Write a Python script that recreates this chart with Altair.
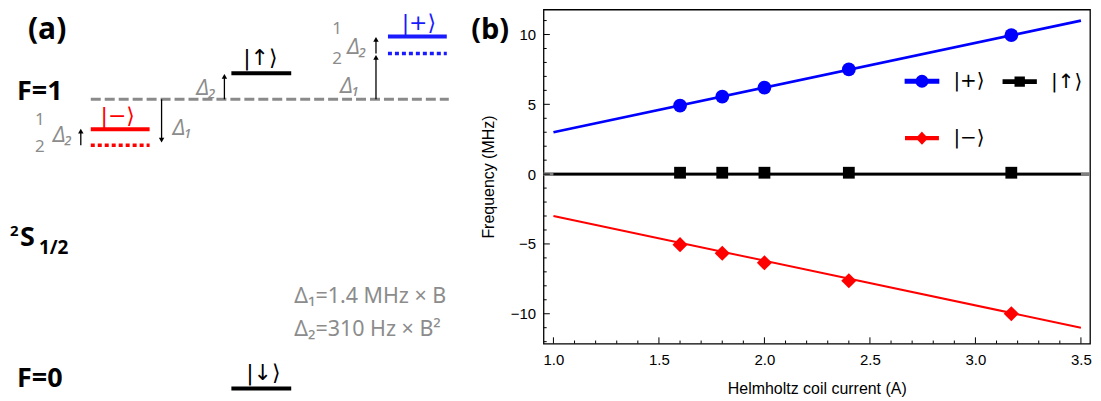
import altair as alt
import pandas as pd

# ---------------- panel (b) data ----------------
current = [1.6, 1.8, 2.0, 2.4, 3.17]
freq_plus = [4.9, 5.55, 6.2, 7.5, 9.95]
freq_up = [0.1, 0.1, 0.1, 0.1, 0.1]
freq_minus = [-5.05, -5.67, -6.35, -7.64, -10.0]
fit_x = [1.0, 3.5]
fit_plus = [3.0, 11.0]
fit_up = [0.0, 0.0]
fit_minus = [-3.0, -11.0]
series_names = ["|+⟩", "|↑⟩", "|−⟩"]
series_colors = ["#0000ff", "#000000", "#ff0000"]
x_major = [1.0, 1.5, 2.0, 2.5, 3.0, 3.5]
y_major = [-10, -5, 0, 5, 10]
x_minor = [round(1.0 + 0.1 * i, 1) for i in range(26)]
y_minor = list(range(-12, 12))

# ---------------- panel (a) data (schematic level diagram) ----------------
level_x0 = [91, 232, 389, 232]
level_x1 = [150, 292, 448, 292]
level_y = [128, 72, 35, 388]
level_color = ["#ff0000", "#000000", "#1a1aff", "#000000"]
dotted_x0 = [91, 389]
dotted_x1 = [150, 448]
dotted_y = [144, 52]
dotted_color = ["#ff0000", "#1a1aff"]
f1_x0 = [91]
f1_x1 = [450]
f1_y = [98]
arrow_x = [81, 162, 225, 377, 377]
arrow_from = [144, 98, 98, 98, 52]
arrow_to = [127, 142, 72, 53, 35]

bold_text = ["(a)", "F=1", "F=0", "2", "S", "1/2"]
bold_x = [28, 17, 17, 10, 20, 39]
bold_y = [29, 91, 379, 230, 237, 247]
bold_size = [30, 27, 27, 15, 27, 19]

ket_text = ["|−⟩", "|↑⟩", "|+⟩", "|↓⟩"]
ket_x = [118, 261, 420, 264]
ket_y = [115, 57, 22, 372]
ket_color = ["#ff0000", "#000000", "#1a1aff", "#000000"]

delta_text = ["Δ₁", "Δ₁", "Δ₂", "Δ₂", "Δ₂"]
delta_x = [183, 351, 207, 63, 358]
delta_y = [128, 86, 88, 135, 47]

frac_text = ["1", "2", "1", "2"]
frac_x = [40, 40, 338, 338]
frac_y = [119, 146, 28, 58]

formula_text = ["Δ₁=1.4 MHz × B", "Δ₂=310 Hz × B²"]
formula_x = [295, 295]
formula_y = [296, 329]

GRAY = "#8c8c8c"

# ================= panel (a) =================
AX = alt.Scale(domain=[8, 545], nice=False, zero=False)
AY = alt.Scale(domain=[8, 393], nice=False, zero=False, reverse=True)

levels = pd.DataFrame({"x0": level_x0, "x1": level_x1, "y": level_y, "c": level_color})
dotted = pd.DataFrame({"x0": dotted_x0, "x1": dotted_x1, "y": dotted_y, "c": dotted_color})
f1 = pd.DataFrame({"x0": f1_x0, "x1": f1_x1, "y": f1_y})
arrows = pd.DataFrame({"x": arrow_x, "y0": arrow_from, "y1": arrow_to})
arrows["dir"] = [1 if b < a else -1 for a, b in zip(arrows["y0"], arrows["y1"])]
arrows["hy"] = arrows["y1"] + 3 * arrows["dir"]
arrows["shape"] = ["triangle-up" if d == 1 else "triangle-down" for d in arrows["dir"]]

def xq(f):
    return alt.X(f, type="quantitative", scale=AX, axis=None)

def yq(f):
    return alt.Y(f, type="quantitative", scale=AY, axis=None)

lvl = alt.Chart(levels).mark_rule(strokeWidth=4).encode(
    x=xq("x0"), x2="x1", y=yq("y"), color=alt.Color("c:N", scale=None))
dot = alt.Chart(dotted).mark_rule(strokeWidth=3.5, strokeDash=[4, 3]).encode(
    x=xq("x0"), x2="x1", y=yq("y"), color=alt.Color("c:N", scale=None))
dash = alt.Chart(f1).mark_rule(strokeWidth=3, strokeDash=[10, 4], color="#8a8a8a").encode(
    x=xq("x0"), x2="x1", y=yq("y"))
shaft = alt.Chart(arrows).mark_rule(strokeWidth=1.3, color="black").encode(
    x=xq("x"), y=yq("y0"), y2="hy")
head = alt.Chart(arrows).mark_point(filled=True, size=30, color="black", opacity=1).encode(
    x=xq("x"), y=yq("hy"), shape=alt.Shape("shape:N", scale=None))

bold_df = pd.DataFrame({"t": bold_text, "x": bold_x, "y": bold_y, "s": bold_size})
t_bold = alt.Chart(bold_df).mark_text(align="left", baseline="middle", font="Open Sans",
                                      fontWeight="bold", color="black").encode(
    x=xq("x"), y=yq("y"), text="t:N", size=alt.Size("s:Q", scale=None))
ket_df = pd.DataFrame({"t": ket_text, "x": ket_x, "y": ket_y, "c": ket_color})
t_ket = alt.Chart(ket_df).mark_text(align="center", baseline="middle", font="DejaVu Sans",
                                    fontSize=22).encode(
    x=xq("x"), y=yq("y"), text="t:N", color=alt.Color("c:N", scale=None))
delta_df = pd.DataFrame({"t": delta_text, "x": delta_x, "y": delta_y})
t_delta = alt.Chart(delta_df).mark_text(align="center", baseline="middle", font="Noto Sans",
                                        fontStyle="italic", fontSize=21, color=GRAY).encode(
    x=xq("x"), y=yq("y"), text="t:N")
frac_df = pd.DataFrame({"t": frac_text, "x": frac_x, "y": frac_y})
t_frac = alt.Chart(frac_df).mark_text(align="center", baseline="middle", font="Noto Sans",
                                      fontSize=17, color=GRAY).encode(
    x=xq("x"), y=yq("y"), text="t:N")
form_df = pd.DataFrame({"t": formula_text, "x": formula_x, "y": formula_y})
t_form = alt.Chart(form_df).mark_text(align="left", baseline="middle", font="Noto Sans",
                                      fontSize=21.5, color=GRAY).encode(
    x=xq("x"), y=yq("y"), text="t:N")

panel_a = alt.layer(dash, lvl, dot, shaft, head, t_bold, t_ket, t_delta, t_frac, t_form).properties(
    width=537, height=385)

# ================= panel (b) =================
X_DOM = [0.953, 3.543]
Y_DOM = [-12.14, 11.79]
XS = alt.Scale(domain=X_DOM, nice=False, zero=False)
YS = alt.Scale(domain=Y_DOM, nice=False, zero=False)
col_scale = alt.Scale(domain=series_names, range=series_colors)

x_axis = alt.Axis(values=x_major, format=".1f", ticks=False, tickSize=0, domain=False, grid=False,
                  labelFont="Liberation Sans", labelFontSize=15, labelPadding=9, labelColor="black",
                  title="Helmholtz coil current (A)", titleFont="Liberation Sans", titleFontSize=16,
                  titleFontWeight="normal", titleColor="black", titlePadding=13)
y_axis = alt.Axis(values=y_major, format="d", ticks=False, tickSize=0, domain=False, grid=False,
                  labelFont="Liberation Sans", labelFontSize=15, labelPadding=8, labelColor="black",
                  title="Frequency (MHz)", titleFont="Liberation Sans", titleFontSize=16,
                  titleFontWeight="normal", titleColor="black", titlePadding=14)

leg_paths = [
    "M-1,-0.07H1V0.07H-1Z M-0.32,0A0.32,0.32,0,1,1,0.32,0A0.32,0.32,0,1,1,-0.32,0Z",
    "M-1,-0.07H1V0.07H-1Z M-0.25,-0.25H0.25V0.25H-0.25Z",
    "M-1,-0.07H1V0.07H-1Z M0,-0.32L0.3,0L0,0.32L-0.3,0Z",
]
# legend is placed at the top level of the concatenation (x counted from panel (a)'s left edge)
legend = alt.Legend(orient="none", legendX=899, legendY=54, columns=2, direction="horizontal",
                    title=None, symbolSize=1024, symbolStrokeWidth=0, symbolOpacity=1,
                    symbolType=leg_paths[0],
                    labelFont="DejaVu Sans", labelFontSize=20, labelColor="black",
                    labelOffset=14, rowPadding=29, columnPadding=13, padding=0)
shape_scale = alt.Scale(domain=series_names, range=leg_paths)

fit_df = pd.DataFrame({
    "x": fit_x * 3,
    "y": fit_plus + fit_up + fit_minus,
    "s": [series_names[0]] * 2 + [series_names[1]] * 2 + [series_names[2]] * 2,
})
pts_df = pd.DataFrame({
    "x": current * 3,
    "y": freq_plus + freq_up + freq_minus,
    "s": [series_names[0]] * 5 + [series_names[1]] * 5 + [series_names[2]] * 5,
})

zero_df = pd.DataFrame({"y": [0]})
zero_line = alt.Chart(zero_df).mark_rule(color="#808080", strokeWidth=4).encode(
    y=alt.Y("y:Q", scale=YS, axis=y_axis))

# legend carrier layer (clipped away, only its legend shows)
leg_df = pd.DataFrame({"x": [2.0, 2.0, 2.0], "y": [100, 100, 100], "s": series_names})
leg = alt.Chart(leg_df).mark_point(filled=True, clip=True, opacity=1, size=10).encode(
    x=alt.X("x:Q", scale=XS, axis=x_axis), y=alt.Y("y:Q", scale=YS, axis=y_axis),
    color=alt.Color("s:N", scale=col_scale, legend=legend),
    shape=alt.Shape("s:N", scale=shape_scale, legend=legend),
)

fits = alt.Chart(fit_df).mark_line().encode(
    x=alt.X("x:Q", scale=XS),
    y=alt.Y("y:Q", scale=YS),
    color=alt.Color("s:N", scale=col_scale, legend=legend),
    strokeWidth=alt.StrokeWidth("s:N", scale=alt.Scale(domain=series_names, range=[2.8, 2, 2.8]),
                                legend=None),
)

def pts(name, shape, size):
    return alt.Chart(pts_df).transform_filter(alt.datum.s == name).mark_point(
        filled=True, shape=shape, size=size, opacity=1, strokeWidth=0).encode(
        x=alt.X("x:Q", scale=XS), y=alt.Y("y:Q", scale=YS),
        color=alt.Color("s:N", scale=col_scale, legend=legend))

p_plus = pts(series_names[0], "circle", 190)
p_up = pts(series_names[1], "square", 140)
p_minus = pts(series_names[2], "diamond", 230)

# inward frame ticks
xt = pd.DataFrame({"x": x_minor})
xt["major"] = [any(abs(v - m) < 1e-6 for m in x_major) for v in x_minor]
xt["y0"] = Y_DOM[0]
xt["y1"] = [Y_DOM[0] + (0.45 if m else 0.22) for m in xt["major"]]
yt = pd.DataFrame({"y": y_minor})
yt["major"] = [v in y_major for v in y_minor]
yt["x0"] = X_DOM[0]
yt["x1"] = [X_DOM[0] + (0.03 if m else 0.015) for m in yt["major"]]
xticks = alt.Chart(xt).mark_rule(color="black", strokeWidth=1).encode(
    x=alt.X("x:Q", scale=XS), y=alt.Y("y0:Q", scale=YS), y2="y1")
yticks = alt.Chart(yt).mark_rule(color="black", strokeWidth=1).encode(
    y=alt.Y("y:Q", scale=YS), x=alt.X("x0:Q", scale=XS), x2="x1")

lab_b = alt.Chart(pd.DataFrame({"t": ["(b)"], "x": [0.61], "y": [10.3]})).mark_text(
    align="left", baseline="middle", font="Open Sans", fontWeight="bold", fontSize=29,
    color="black").encode(x=alt.X("x:Q", scale=XS), y=alt.Y("y:Q", scale=YS), text="t:N")

panel_b = alt.layer(leg, zero_line, fits, p_plus, p_up, p_minus, xticks, yticks, lab_b).properties(
    width=548, height=335,
    view=alt.ViewBackground(stroke="black", strokeWidth=1.3),
)

chart = alt.hconcat(panel_a, panel_b, spacing=0, bounds="flush").properties(
    padding=0
).configure_view(stroke=None)

chart.save("out.html", embed_options={"renderer": "svg", "actions": False})
